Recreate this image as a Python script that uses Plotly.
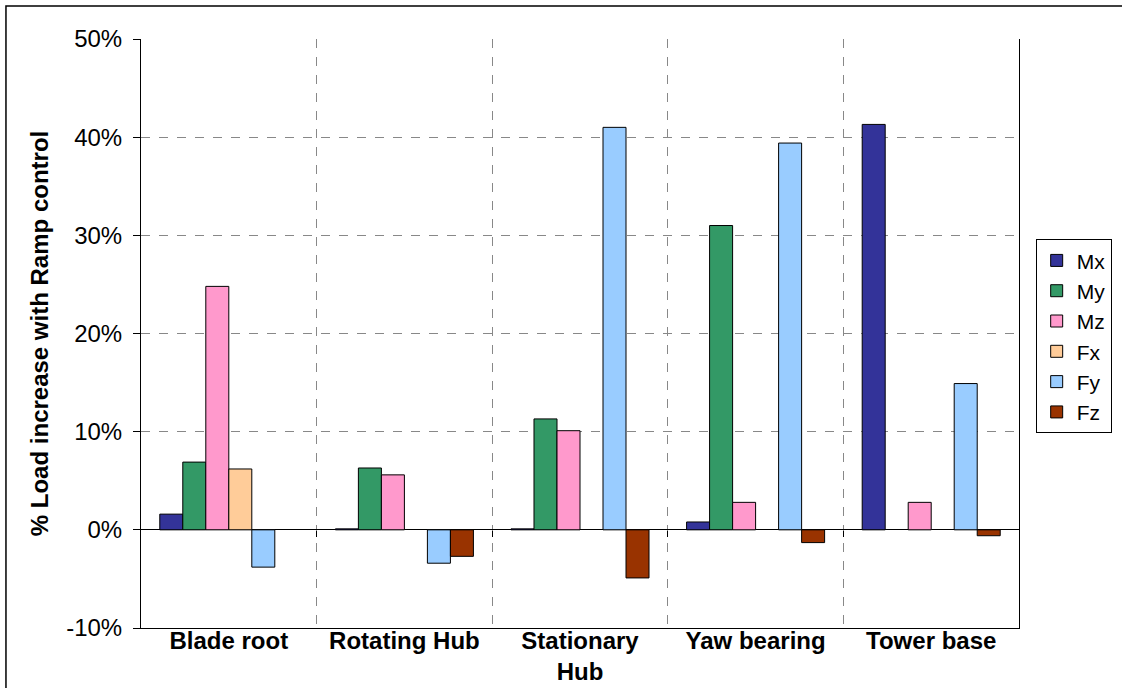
import plotly.graph_objects as go

# Load components at each location, % increase with Ramp control
locations = ["Blade root", "Rotating Hub", "Stationary<br>Hub", "Yaw bearing", "Tower base"]
series_names = ["Mx", "My", "Mz", "Fx", "Fy", "Fz"]
mx = [1.6, 0.1, 0.1, 0.8, 41.3]
my = [6.9, 6.3, 11.3, 31.0, None]
mz = [24.8, 5.6, 10.1, 2.8, 2.8]
fx = [6.2, None, None, None, None]
fy = [-3.8, -3.4, 41.0, 39.4, 14.9]
fz = [None, -2.7, -4.9, -1.3, -0.6]
series_values = [mx, my, mz, fx, fy, fz]
series_colors = ["#333399", "#339966", "#FF99CC", "#FFCC99", "#99CCFF", "#993300"]

y_ticks = [-10, 0, 10, 20, 30, 40, 50]
y_tick_text = [f"{v}%" for v in y_ticks]
y_range = [-10, 50]

FONT = "Liberation Sans, Arial, sans-serif"

fig = go.Figure()
for name, vals, col in zip(series_names, series_values, series_colors):
    fig.add_trace(go.Bar(
        name=name, x=locations, y=vals,
        marker=dict(color=col, line=dict(color="black", width=1)),
    ))

# paper fraction of the zero line, taken from the value range
zero_pos = (0 - y_range[0]) / (y_range[1] - y_range[0])

fig.update_layout(
    width=1122, height=688,
    margin=dict(l=141, r=103, t=39, b=60, autoexpand=False),
    paper_bgcolor="white", plot_bgcolor="white",
    barmode="group", bargap=0.214, bargroupgap=0,
    font=dict(family=FONT, color="black"),
    showlegend=True,
    legend=dict(
        x=1.019, y=0.66, xanchor="left", yanchor="top",
        bordercolor="black", borderwidth=1, bgcolor="white",
        font=dict(size=21, family=FONT),
    ),
    xaxis=dict(
        type="category", tickson="boundaries", automargin=False,
        showgrid=True, gridcolor="#888888", griddash="dash", gridwidth=1,
        showline=True, linecolor="black", linewidth=1,
        ticks="", tickfont=dict(size=24, family=FONT, weight="bold"),
        ticklabelstandoff=-9,
        range=[-0.5, len(locations) - 0.5],
    ),
    xaxis2=dict(
        overlaying="x", anchor="free", position=zero_pos, automargin=False,
        range=[-0.5, len(locations) - 0.5],
        tickvals=[i + 0.5 for i in range(len(locations) - 1)],
        ticks="outside", ticklen=6, tickcolor="black",
        showticklabels=False, showgrid=False, showline=False, zeroline=False,
    ),
    yaxis=dict(
        range=y_range, tickvals=y_ticks, ticktext=y_tick_text, automargin=False,
        showgrid=True, gridcolor="#888888", griddash="dash", gridwidth=1,
        zeroline=True, zerolinecolor="black", zerolinewidth=1,
        showline=True, linecolor="black", linewidth=1, mirror=True,
        ticks="outside", ticklen=7, tickcolor="black",
        tickfont=dict(size=24, family=FONT), ticklabelstandoff=6,
        title=dict(text="% Load increase with Ramp control",
                   font=dict(size=24, family=FONT, weight="bold"), standoff=10),
    ),
    shapes=[dict(type="rect", xref="paper", yref="paper",
                 x0=-0.1538, x1=1.3, y0=-0.3, y1=1.056,
                 line=dict(color="black", width=1.5), fillcolor="rgba(0,0,0,0)",
                 layer="below")],
)

# invisible trace so the boundary tick axis is drawn
fig.add_trace(go.Scatter(x=[0], y=[0], xaxis="x2", mode="markers",
                         marker=dict(opacity=0), showlegend=False, hoverinfo="skip"))

fig.write_html("out.html")
